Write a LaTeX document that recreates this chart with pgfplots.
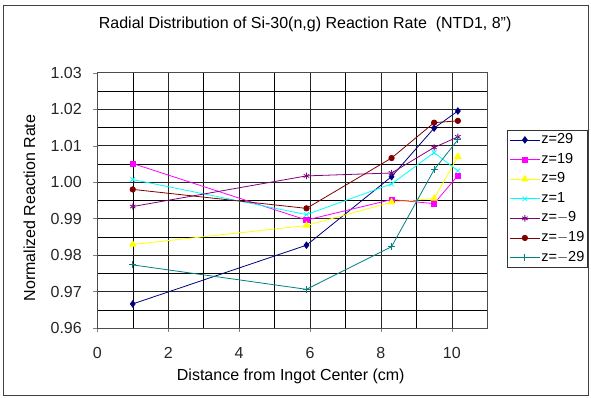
\documentclass[border=0pt]{standalone}
\usepackage{fontspec}
\setmainfont{Liberation Sans}
\usepackage{pgfplots}
\pgfplotsset{compat=1.18}
\definecolor{cnavy}{RGB}{0,0,128}
\definecolor{cmag}{RGB}{255,0,255}
\definecolor{cyel}{RGB}{255,255,0}
\definecolor{ccyan}{RGB}{0,255,255}
\definecolor{cpurp}{RGB}{128,0,128}
\definecolor{cdred}{RGB}{128,0,0}
\definecolor{cteal}{RGB}{0,128,128}
\begin{document}
\begin{tikzpicture}
\begin{axis}[
  width=390pt, height=255.3pt, scale only axis,
  xmin=0, xmax=11, ymin=0.96, ymax=1.03,
  xtick={0,2,4,6,8,10}, minor xtick={1,3,5,7,9,11},
  ytick={0.96,0.97,0.98,0.99,1.00,1.01,1.02,1.03},
  minor ytick={0.965,0.975,0.985,0.995,1.005,1.015,1.025},
  grid=both,
  major grid style={black!85, line width=0.6pt},
  minor grid style={black, line width=0.5pt},
  axis line style={black!70, line width=0.8pt},
  tick align=outside, tick pos=left,
  major tick length=4pt, minor tick length=0pt,
  /pgf/number format/assume math mode=true,
  yticklabel style={/pgf/number format/fixed, /pgf/number format/fixed zerofill, /pgf/number format/precision=2, xshift=-8pt},
  tick label style={font=\fontsize{16}{18}\selectfont, black!85},
  xticklabel style={anchor=base, yshift=-27pt},
  title={Radial Distribution of Si-30(n,g) Reaction Rate\ \ (NTD1, 8")},
  title style={at={(axis description cs:0.533,1)}, anchor=base, yshift=37.7pt, font=\fontsize{16}{18}\selectfont},
  xlabel={Distance from Ingot Center (cm)},
  xlabel style={at={(axis description cs:0.496,0)}, anchor=base, yshift=-53pt, font=\fontsize{16}{18}\selectfont},
  ylabel={Normalized Reaction Rate},
  ylabel style={at={(axis description cs:-0.174,0.47)}, anchor=center, font=\fontsize{16}{18}\selectfont},
  legend style={at={(axis description cs:1.051,0.775)}, anchor=north west, draw=black!80, line width=0.6pt,
    font=\fontsize{14.5}{16}\selectfont, inner sep=2pt,
    nodes={inner sep=1pt, text height=10pt, text depth=3pt}, row sep=4.6pt},
  legend cell align=left,
  legend image code/.code={\draw[mark repeat=2,mark phase=2,#1] plot coordinates {(0pt,0pt) (15pt,0pt) (30pt,0pt)};},
  every axis plot/.append style={line width=0.8pt},
]
\addplot[color=cnavy, mark=diamond*, mark size=3.2pt] coordinates {(1.0,0.9666) (5.9,0.9827) (8.3,1.0015) (9.5,1.0148) (10.17,1.0195)};
\addlegendentry{z=29}
\addplot[color=cmag, mark=square*, mark size=2.6pt] coordinates {(1.0,1.0051) (5.9,0.9896) (8.3,0.9952) (9.5,0.9941) (10.17,1.0018)};
\addlegendentry{z=19}
\addplot[color=cyel, mark=triangle*, mark size=3.6pt] coordinates {(1.0,0.9829) (5.9,0.9881) (8.3,0.9945) (9.5,0.9955) (10.17,1.0070)};
\addlegendentry{z=9}
\addplot[color=ccyan, mark=x, mark size=3.2pt] coordinates {(1.0,1.0007) (5.9,0.9911) (8.3,0.9995) (9.5,1.0081) (10.17,1.0031)};
\addlegendentry{z=1}
\addplot[color=cpurp, mark=asterisk, mark size=3.2pt] coordinates {(1.0,0.9933) (5.9,1.0017) (8.3,1.0025) (9.5,1.0095) (10.17,1.0124)};
\addlegendentry{z=$-$9}
\addplot[color=cdred, mark=*, mark size=2.7pt] coordinates {(1.0,0.9980) (5.9,0.9928) (8.3,1.0066) (9.5,1.0163) (10.17,1.0168)};
\addlegendentry{z=$-$19}
\addplot[color=cteal, mark=+, mark size=3.4pt] coordinates {(1.0,0.9773) (5.9,0.9706) (8.3,0.9823) (9.5,1.0034) (10.17,1.0116)};
\addlegendentry{z=$-$29}
\end{axis}
\path ([shift={(-97.3pt,-70pt)}]current axis.south west) rectangle ([shift={(103.7pt,72.7pt)}]current axis.north east);
\draw[black!75, line width=0.8pt] ([shift={(-94.3pt,-67pt)}]current axis.south west) rectangle ([shift={(100.7pt,67.7pt)}]current axis.north east);
\end{tikzpicture}
\end{document}
